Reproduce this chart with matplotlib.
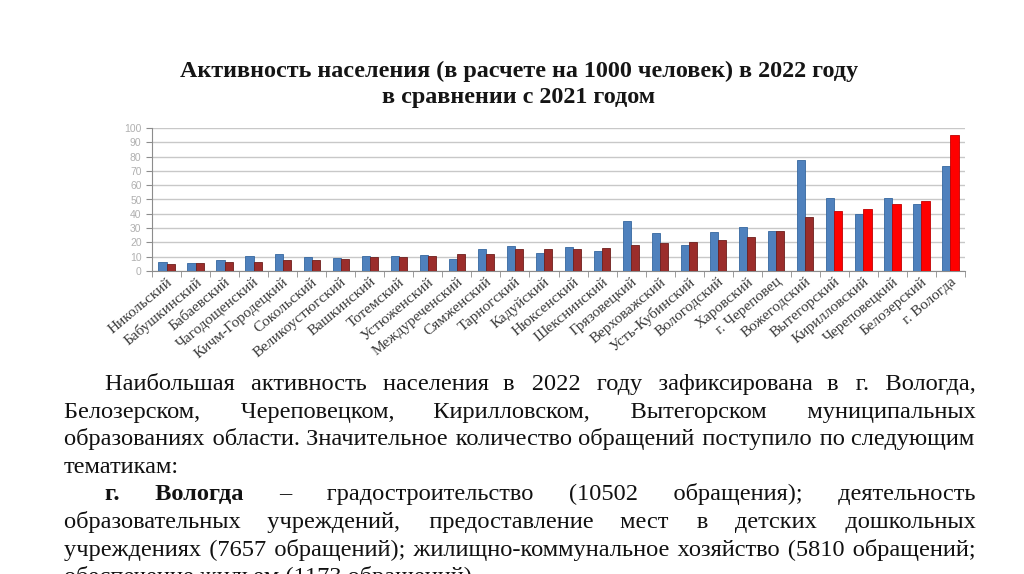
import numpy as np
import matplotlib.pyplot as plt

districts = ["Никольский", "Бабушкинский", "Бабаевский", "Чагодощенский", "Кичм-Городецкий",
             "Сокольский", "Великоустюгский", "Вашкинский", "Тотемский", "Устюженский",
             "Междуреченский", "Сямженский", "Тарногский", "Кадуйский", "Нюксенский",
             "Шекснинский", "Грязовецкий", "Верховажский", "Усть-Кубинский", "Вологодский",
             "Харовский", "г. Череповец", "Вожегодский", "Вытегорский", "Кирилловский",
             "Череповецкий", "Белозерский", "г. Вологда"]
val_2021 = [6.5, 5.5, 7.8, 10.8, 11.8, 9.8, 8.8, 10.6, 10.2, 11.3, 8.2, 15.5, 17.3, 12.7,
            16.7, 14.3, 34.8, 26.8, 18.3, 27.6, 30.8, 28.0, 77.4, 51.2, 40.0, 50.7, 47.2, 73.7]
val_2022 = [5.0, 5.8, 6.1, 6.6, 7.5, 8.0, 8.2, 9.5, 9.6, 10.8, 12.0, 12.1, 15.4, 15.5,
            15.7, 16.2, 18.3, 19.8, 20.6, 21.8, 23.7, 27.7, 37.8, 41.8, 43.1, 46.8, 49.0, 95.0]
n_top = 5  # leaders highlighted in bright red

title_lines = ["Активность населения (в расчете на 1000 человек) в 2022 году",
               "в сравнении с 2021 годом"]

# paragraph lines: (text, indent, justify); **...** marks bold start
para = [
    ("Наибольшая активность населения в 2022 году зафиксирована в г. Вологда,", True, True),
    ("Белозерском, Череповецком, Кирилловском, Вытегорском муниципальных", False, True),
    ("образованиях области. Значительное количество обращений поступило по следующим", False, True),
    ("тематикам:", False, False),
    ("**г. **Вологда – градостроительство (10502 обращения); деятельность", True, True),
    ("образовательных учреждений, предоставление мест в детских дошкольных", False, True),
    ("учреждениях (7657 обращений); жилищно-коммунальное хозяйство (5810 обращений;", False, True),
    ("обеспечение жильем (1173 обращений).", False, False),
]

W, H = 1024, 574
fig = plt.figure(figsize=(W / 100, H / 100), dpi=100)
serif = "Liberation Serif"
fams = [serif, "DejaVu Serif", "DejaVu Sans"]

# chart
ax = fig.add_axes([152 / W, 1 - 271 / H, 813 / W, 143 / H])
x = np.arange(len(districts))
red_cols = ["#9B2D2B"] * (len(districts) - n_top) + ["#FF0000"] * n_top
red_edge = ["#6E1E1C"] * (len(districts) - n_top) + ["#C00000"] * n_top
bw = 0.28
ax.bar(x - bw / 2, val_2021, bw, color="#4F81BD", edgecolor="#35679F", linewidth=0.6, zorder=3)
ax.bar(x + bw / 2, val_2022, bw, color=red_cols, edgecolor=red_edge, linewidth=0.6, zorder=3)
ax.set_xlim(-0.5, len(districts) - 0.5)
ax.set_ylim(0, 100)
ax.set_yticks(np.arange(0, 101, 10))
ax.yaxis.grid(True, color="#C8C8C8", linewidth=1.0, zorder=0)
ax.set_axisbelow(True)
for s in ["top", "right"]:
    ax.spines[s].set_visible(False)
for s in ["left", "bottom"]:
    ax.spines[s].set_color("#8C8C8C")
ax.tick_params(axis="y", colors="#8C8C8C", labelcolor="#B0B0B0", labelsize=7.5, length=4)
for lab in ax.get_yticklabels():
    lab.set_family("Liberation Sans")
ax.set_xticks(np.arange(-0.5, len(districts), 1.0), minor=True)
ax.set_xticks(x)
ax.tick_params(axis="x", which="major", length=0)
ax.tick_params(axis="x", which="minor", length=4, color="#8C8C8C")
ax.set_xticklabels(districts, rotation=40, ha="right", va="top", rotation_mode="anchor",
                   family=serif, fontsize=11, color="#3A3A3A")
ax.tick_params(axis="x", pad=3)

# title
for k, yb in enumerate([77, 103]):
    fig.text(519 / W, 1 - yb / H, title_lines[k], ha="center", va="baseline", family=serif,
             weight="bold", fontsize=17.4, color="#151515")

# justified paragraph: one text per run, gaps filled with unicode spaces
renderer = fig.canvas.get_renderer()
fs = 17.6
left, right, indent = 64, 975, 105
base0, step = 390, 27.6


def text_width(w, weight):
    t = fig.text(0, 0, w, family=fams, fontsize=fs, weight=weight)
    bb = t.get_window_extent(renderer)
    t.remove()
    return bb.width


fillers = []
for ch in ["\u2002", " ", "\u2009", "\u200A"]:
    fillers.append((ch, text_width("a" + ch + "a", "normal") - text_width("aa", "normal")))
fillers = [f for f in fillers if f[1] > 0.3]
fillers.sort(key=lambda f: -f[1])
fine = fillers[-1][1]
space_w = dict(fillers)[" "]


def make_gap(need):
    out, used = "", 0.0
    while need - used > fine / 2:
        for ch, w in fillers:
            if w <= need - used + fine / 2:
                out += ch
                used += w
                break
        else:
            break
    return out if out else " ", (used if out else space_w)


for i, (line, ind, just) in enumerate(para):
    if line.startswith("**"):
        bold_part, rest = line[2:].split("**", 1)
        rest_words = rest.split()
        words = [(w, "bold") for w in bold_part.split()] + [(rest_words[0], "bold")]
        words += [(w, "normal") for w in rest_words[1:]]
    else:
        words = [(w, "normal") for w in line.split()]
    x0 = indent if ind else left
    widths = [text_width(w, wt) for w, wt in words]
    if just and len(words) > 1:
        gap = (right - x0 - sum(widths)) / (len(words) - 1)
    else:
        gap = space_w
    y = base0 + i * step
    # split into runs of equal weight
    j = 0
    while j < len(words):
        k = j
        while k + 1 < len(words) and words[k + 1][1] == words[j][1]:
            k += 1
        run_x = x0 + sum(widths[:j]) + gap * j
        s, drift = words[j][0], 0.0
        for m in range(j + 1, k + 1):
            g, used = make_gap(gap - drift)
            drift = used - (gap - drift)
            s += g + words[m][0]
        fig.text(run_x / W, 1 - y / H, s, family=fams, fontsize=fs, weight=words[j][1],
                 va="baseline", ha="left", color="#111111")
        j = k + 1

fig.savefig("out.png", dpi=100)
